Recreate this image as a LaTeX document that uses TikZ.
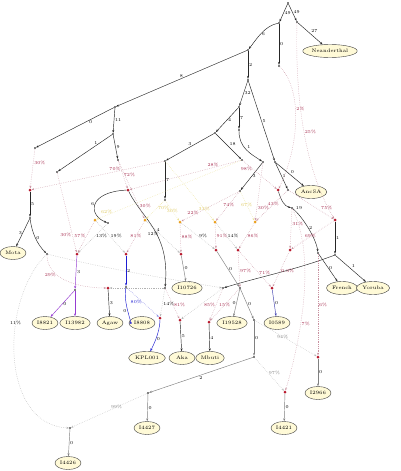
\documentclass[tikz,border=0pt]{standalone}
\usepackage{tikz}
\usetikzlibrary{arrows.meta,shapes.geometric}
\definecolor{leaffill}{RGB}{255,250,215}
\definecolor{pctred}{RGB}{165,40,75}
\definecolor{pctyel}{RGB}{222,200,90}
\definecolor{mixred}{RGB}{200,145,160}
\definecolor{mixyel}{RGB}{236,226,150}
\definecolor{admred}{RGB}{185,25,45}
\definecolor{admorg}{RGB}{235,160,30}
\definecolor{purp}{RGB}{150,60,210}
\definecolor{blu}{RGB}{30,30,210}
\tikzset{
  jn/.style={circle,fill=black,inner sep=0pt,minimum size=1.8pt},
  adm/.style={circle,fill=admred,inner sep=0pt,minimum size=3pt},
  yadm/.style={circle,fill=admorg,inner sep=0pt,minimum size=3pt},
  leaf/.style={ellipse,draw=black!75,fill=leaffill,line width=0.4pt,inner sep=1pt,
    minimum width=26pt,minimum height=13pt,font=\fontsize{5}{6}\selectfont},
  tr/.style={draw=black!85,line width=0.45pt,-{Stealth[length=3pt,width=2pt]}},
  mix/.style={draw=gray!60,line width=0.45pt,dash pattern=on 0.5pt off 1.3pt,
    -{Stealth[length=2.5pt,width=2pt]}},
  mixr/.style={mix,draw=mixred}, mixy/.style={mix,draw=mixyel},
  mixb/.style={mix,draw=blu!60}, mixg/.style={mix,draw=gray!55},
  el/.style={font=\fontsize{4.5}{5}\selectfont,inner sep=0.8pt},
  pr/.style={el,text=pctred}, py/.style={el,text=pctyel},
  pg/.style={el,text=gray}, pb/.style={el,text=blu},
}
\begin{document}
\begin{tikzpicture}[x=1pt,y=-1pt]
  \path[fill=white,use as bounding box] (0,0) rectangle (400,471);
  \foreach \nm/\x/\y in {r/288/3, a/279/23, nb/297/22, b/248/50, c/279/66, d/248/80,
    e/115/107, f/239/107, g/113/134, h/35/148, i/57/172, j/118/160, k/215/133,
    l/165/161, m/242/160, o/239/130, p/263/162, q/275/162, n7/165/200, t/240/191,
    u/288/190, w/292/208, fr/318/253, yo/335/255, mm/30/218, mz/47/254, yb/108/223,
    pu/75/290, bu/126/287, n4/165/288, yy/223/288, gg/240/288, hh/254/320,
    ii/254/357, jj/148/393, kk/70/428}
    \node[jn] (\nm) at (\x,\y) {};
  \foreach \nm/\x/\y in {aM/30/190, aX/128/190, v/278/190, z/335/220, aP/77/254,
    aB/126/254, aI/181/254, aG1/216/250, aG2/238/250, aG3/290/250, aAg/108/288,
    aIo/272/288, aK/160/318, aA/180/320, aMb/209/322, a29/318/357, a21/285/392}
    \node[adm] (\nm) at (\x,\y) {};
  \foreach \nm/\x/\y in {Y1/95/220, Y2/145/220, Y3/180/222, Y4/215/222, Y5/255/222}
    \node[yadm] (\nm) at (\x,\y) {};
  \foreach \nm/\x/\y/\txt in {nean/330/51/Neanderthal, anc/311/192/AncSA,
    mota/13/253/Mota, fren/342/288/French, yor/373/288/Yoruba,
    i10726/187/288/I10726, i8821/45/323/I8821, i13982/75/323/I13982,
    agaw/110/323/Agaw, i8808/142/323/I8808, i19528/232/323/I19528,
    i0589/277/323/I0589, kpl/147/358/KPL001, aka/182/358/Aka, mbu/210/358/Mbuti,
    i2966/318/393/I2966, i4427/147/428/I4427, i4421/284/428/I4421,
    i4426/68/463/I4426}
    \node[leaf] (\nm) at (\x,\y) {\txt};

  \draw[tr] (r) -- node[el,right] {49} (a);
  \draw[tr] (r) -- node[el,right] {49} (nb);
  \draw[tr] (nb) -- node[el,above right] {27} (nean);
  \draw[tr] (a) .. controls +(-15,3) and +(8,-10) .. node[el,right] {6} (b);
  \draw[tr] (a) -- node[el,right] {0} (c);
  \draw[tr] (b) -- node[el,right] {2} (d);
  \draw[tr] (b) -- node[el,above] {8} (e);
  \draw[tr] (d) -- node[el,right] {32} (f);
  \draw[tr] (d) -- node[el,right] {5} (q);
  \draw[tr] (f) -- node[el,right] {4} (k);
  \draw[tr] (f) -- node[el,right] {7} (o);
  \draw[tr] (o) .. controls +(0,18) and +(-12,-8) .. node[el,above right] {1} (p);
  \draw[tr] (e) -- node[el,below,pos=0.3] {0} (h);
  \draw[tr] (e) -- node[el,right] {11} (g);
  \draw[tr] (g) -- node[el,above,pos=0.3] {1} (i);
  \draw[tr] (g) -- node[el,right] {9} (j);
  \draw[tr] (k) -- node[el,above] {3} (l);
  \draw[tr] (k) -- node[el,above right] {18} (m);
  \draw[tr] (l) -- node[el,right] {7} (n7);
  \draw[tr] (p) -- node[el,right] {3} (t);
  \draw[tr] (q) -- node[el,right] {1} (u);
  \draw[tr] (q) -- node[el,above right] {0} (anc);
  \draw[tr] (v) .. controls +(3,10) and +(-8,-2) .. node[el,right=4pt,pos=1] {19} (w);
  \draw[tr] (w) .. controls +(10,8) and +(-2,-15) .. node[el,right] {2} (fr);
  \draw[tr] (fr) -- node[el,right] {0} (fren);
  \draw[tr] (z) -- node[el,right] {1} (yo);
  \draw[tr] (yo) -- node[el,above right] {1} (yor);
  \draw[tr] (yo) .. controls +(-40,15) and +(40,-12) .. (yy);
  \draw[tr] (aM) -- node[el,right] {5} (mm);
  \draw[tr] (mm) -- node[el,left] {3} (mota);
  \draw[tr] (mm) .. controls +(2,15) and +(-10,-10) .. node[el,right] {0} (mz);
  \draw[tr] (aX) .. controls +(-40,2) and +(-20,-8) .. node[el,left] {6} (yb);
  \draw[tr] (aX) .. controls +(15,30) and +(5,-55) .. node[el,right=1.5pt,pos=0.5] {4} (n4);
  \draw[tr,draw=purp] (aP) -- node[el,right] {3} (pu);
  \draw[tr,draw=purp] (pu) -- node[el,right] {0} (i8821);
  \draw[tr,draw=purp] (pu) -- (i13982);
  \draw[tr] (aAg) -- node[el,right] {3} (agaw);
  \draw[tr,draw=blu] (aB) -- node[el,right] {2} (bu);
  \draw[tr,draw=blu] (bu) .. controls +(-3,15) and +(-10,0) .. node[el,left] {0} (i8808);
  \draw[tr,draw=gray] (aI) -- node[el,right] {0} (i10726);
  \draw[tr,draw=blu] (aK) .. controls +(0,15) and +(5,-10) .. node[el,right] {0} (kpl);
  \draw[tr] (aA) -- node[el,right] {5} (aka);
  \draw[tr] (aMb) -- node[el,right] {4} (mbu);
  \draw[tr,draw=gray] (aG1) -- node[el,right] {0} (gg);
  \draw[tr,draw=gray] (gg) -- node[el,left] {0} (i19528);
  \draw[tr,draw=gray] (gg) -- node[el,right] {0} (hh);
  \draw[tr,draw=gray] (hh) -- node[el,right] {0} (ii);
  \draw[tr,draw=gray] (ii) -- node[el,below] {2} (jj);
  \draw[tr,draw=gray] (jj) -- node[el,right] {0} (i4427);
  \draw[tr,draw=gray] (kk) -- node[el,right] {0} (i4426);
  \draw[tr,draw=blu!60!gray] (aIo) -- node[el,right] {0} (i0589);
  \draw[tr,draw=gray] (a21) -- node[el,right] {0} (i4421);
  \draw[tr,draw=gray] (a29) -- node[el,right] {0} (i2966);

  \draw[mixr] (c) .. controls +(25,25) and +(20,-40) .. node[pr,right,pos=0.4] {2\%} (v);
  \draw[mixr] (nb) .. controls +(-2,78) and +(-30,-50) .. node[pr,right,pos=0.5] {25\%} (z);
  \draw[mixr] (h) -- node[pr,right,pos=0.35] {30\%} (aM);
  \draw[mixr] (l) -- node[pr,above,pos=0.37] {70\%} (aM);
  \draw[mixr] (j) -- node[pr,right] {72\%} (aX);
  \draw[mixr] (m) -- node[pr,above,pos=0.25] {28\%} (aX);
  \draw[mixr] (m) -- node[pr,left,pos=0.3] {98\%} (v);
  \draw[mixr] (u) -- node[pr,above right,pos=0.7] {75\%} (z);
  \draw[mixy] (m) -- node[py,above,pos=0.93] {62\%} (Y1);
  \draw[mixr] (j) -- node[pr,right,pos=0.78] {30\%} (Y2);
  \draw[mixy] (n7) -- node[py,right,pos=0.4] {70\%} (Y2);
  \draw[mixy] (n7) -- node[py,pos=0.5] {30\%} (Y3);
  \draw[mixr] (t) -- node[pr,above,pos=0.8] {22\%} (Y3);
  \draw[mixy] (l) -- node[py,pos=0.8] {33\%} (Y4);
  \draw[mixr] (t) -- node[pr,pos=0.45] {74\%} (Y4);
  \draw[mixy] (t) -- node[py,pos=0.45] {67\%} (Y5);
  \draw[mixr] (p) -- node[pr,right,pos=0.78] {30\%} (Y5);
  \draw[mixr] (u) -- node[pr,pos=0.45] {43\%} (Y5);
  \draw[mixr] (i) -- node[pr,left,pos=0.78] {30\%} (aP);
  \draw[mixr] (Y1) -- node[pr,left,pos=0.47] {57\%} (aP);
  \draw[mix] (yb) -- node[el,right,pos=0.42] {13\%} (aP);
  \draw[mix] (Y1) -- node[el,right,pos=0.47] {19\%} (aB);
  \draw[mixr] (Y2) -- node[pr,pos=0.47] {81\%} (aB);
  \draw[mix] (Y2) -- node[el,left,pos=0.4] {12\%} (aI);
  \draw[mixr] (Y3) -- node[pr,right,pos=0.47] {88\%} (aI);
  \draw[mix] (Y3) -- node[el,right,pos=0.5] {9\%} (aG1);
  \draw[mixr] (Y4) -- node[pr,right,pos=0.5] {91\%} (aG1);
  \draw[mix] (Y4) -- node[el,right,pos=0.5] {14\%} (aG2);
  \draw[mixr] (Y5) -- node[pr,right,pos=0.5] {86\%} (aG2);
  \draw[mixr] (w) -- node[pr,right,pos=0.38] {31\%} (aG3);
  \draw[mixr] (z) -- node[pr,pos=0.55] {69\%} (aG3);
  \draw[mixr] (mz) .. controls +(0,25) and +(-30,0) .. node[pr,left,pos=0.35] {29\%} (aAg);
  \draw[mixr] (aG2) -- node[pr,right,pos=0.6] {71\%} (aIo);
  \draw[mixr] (aG3) -- node[pr,right,pos=0.55] {0.3\%} (aIo);
  \draw[mixr] (aG2) -- node[pr,right,pos=0.55] {97\%} (gg);
  \draw[mixb] (bu) -- node[pb,left,pos=0.5] {80\%} (aK);
  \draw[mix] (n4) -- node[el,right,pos=0.55] {14\%} (aK);
  \draw[mixr] (n4) -- node[pr,right,pos=0.55] {81\%} (aA);
  \draw[mixr] (yy) -- node[pr,left,pos=0.5] {85\%} (aMb);
  \draw[mixr] (gg) -- node[pr,pos=0.5] {15\%} (aMb);
  \draw[mixr] (fr) -- node[pr,right,pos=0.5] {6\%} (a29);
  \draw[mix] (mz) .. controls (0,300) and (0,425) .. node[el,pos=0.35] {11\%} (kk);
  \draw[mixr] (w) .. controls +(25,50) and +(15,-50) .. node[pr,right,pos=0.62] {7\%} (a21);
  \draw[mixg] (hh) -- node[pg,pos=0.45] {94\%} (a29);
  \draw[mixg] (ii) -- node[pg,right,pos=0.45] {97\%} (a21);
  \draw[mixg] (jj) -- node[pg,pos=0.4] {99\%} (kk);
  \draw[mix] (n4) -- (aAg);
  \draw[mix] (yy) -- (aA);
  \draw[mix] (mz) .. controls +(60,15) and +(-60,-10) .. (yy);
\end{tikzpicture}
\end{document}
